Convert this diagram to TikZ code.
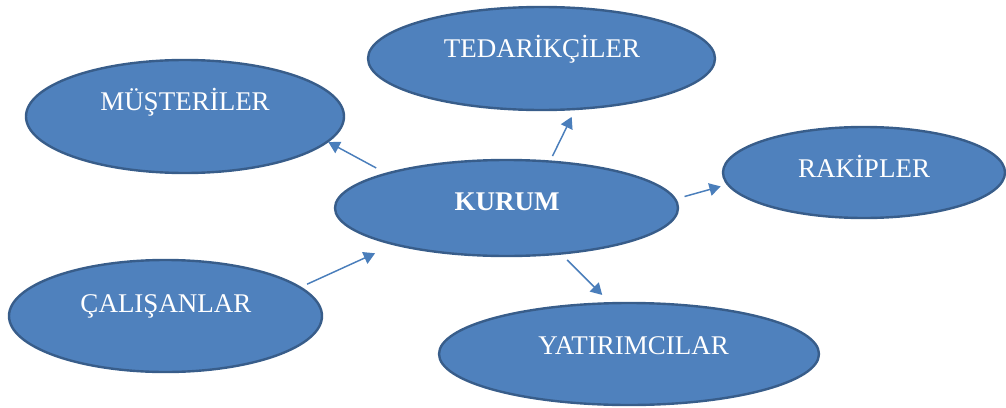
\documentclass[tikz,border=0pt]{standalone}
\usepackage{fontspec}
\setmainfont{Liberation Serif}
\usetikzlibrary{shapes.geometric,arrows.meta}
\definecolor{ovalfill}{HTML}{4F81BD}
\definecolor{ovaledge}{HTML}{385D8A}
\definecolor{arrowblue}{HTML}{4A7EBB}
\begin{document}
\begin{tikzpicture}[x=0.75pt,y=-0.75pt,
  oval/.style={ellipse,draw=ovaledge,fill=ovalfill,line width=1.8pt,inner sep=0pt,outer sep=0pt},
  lbl/.style={text=white,font=\fontsize{20.25}{24}\selectfont,anchor=base,inner sep=0pt},
  link/.style={draw=arrowblue,line width=1.1pt,-{Triangle[length=8.5pt,width=9.5pt]}}]
\useasboundingbox (0,0) rectangle (1006,407);

% stakeholder ovals
\node[oval,minimum width=238.5pt,minimum height=84.75pt] (must) at (185,116.5) {};
\node[oval,minimum width=260.25pt,minimum height=77.25pt] (ted) at (541.5,58.5) {};
\node[oval,minimum width=211.5pt,minimum height=68.25pt] (rak) at (864,172.5) {};
\node[oval,minimum width=257.25pt,minimum height=72pt] (kurum) at (506.5,208) {};
\node[oval,minimum width=234.75pt,minimum height=84pt] (cal) at (165.5,316) {};
\node[oval,minimum width=285pt,minimum height=76.5pt] (yat) at (629,354) {};

% labels
\node[lbl] (must-t) at (185,110) {MÜŞTERİLER};
\node[lbl] (ted-t) at (542,57) {TEDARİKÇİLER};
\node[lbl] (rak-t) at (864,177) {RAKİPLER};
\node[lbl,font=\fontsize{20.25}{24}\selectfont\bfseries] (kurum-t) at (507,210) {KURUM};
\node[lbl] (cal-t) at (166,312.5) {ÇALIŞANLAR};
\node[lbl] (yat-t) at (633.5,354) {YATIRIMCILAR};

% relations
\draw[link,shorten <=9pt,shorten >=0.8pt] (kurum.164) -- (must.-10.1);
\draw[link,shorten <=4.6pt,shorten >=6.6pt] (kurum.47.4) -- (ted.-56.6);
\draw[link,shorten <=7.4pt,shorten >=5.6pt] (kurum.3.3) -- (rak.185.6);
\draw[link,shorten <=6.8pt,shorten >=8.8pt] (kurum.-40.3) -- (yat.110.5);
\draw[link,shorten <=5.8pt,shorten >=16.1pt] (cal.12.8) -- (kurum.198.3);
\end{tikzpicture}
\end{document}
